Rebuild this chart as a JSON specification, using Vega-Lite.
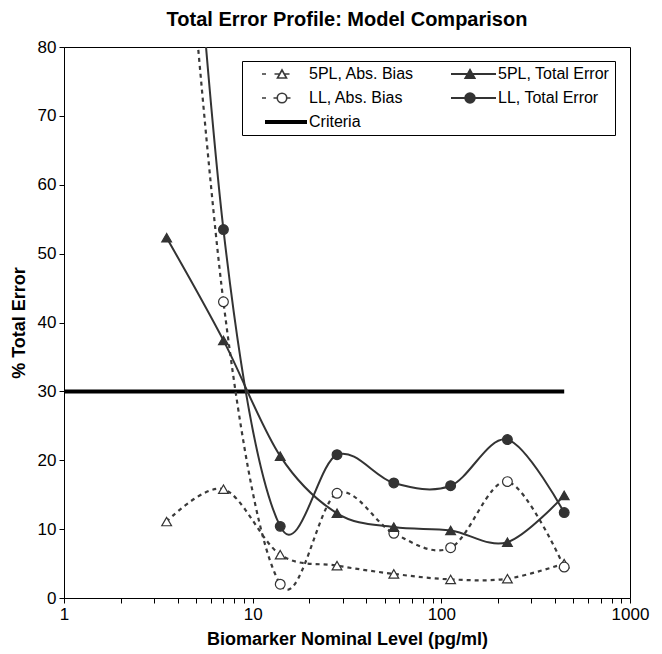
{
  "$schema": "https://vega.github.io/schema/vega-lite/v6.json",
  "width": 566,
  "height": 551,
  "autosize": "none",
  "padding": {"left": 64, "top": 47, "right": 32, "bottom": 56},
  "background": "white",
  "title": {"text": "Total Error Profile: Model Comparison", "fontSize": 20, "font": "Liberation Sans", "fontWeight": "bold", "color": "black", "offset": 8, "anchor": "middle"},
  "config": {
    "view": {"stroke": "black", "strokeWidth": 1},
    "font": "Liberation Sans",
    "axis": {"grid": false, "domainColor": "black", "tickColor": "black", "labelColor": "black", "titleColor": "black", "labelFontSize": 17, "titleFontSize": 18, "titleFontWeight": "bold", "labelFont": "Liberation Sans", "titleFont": "Liberation Sans", "tickSize": 5, "labelPadding": 3}
  },
  "data": {"values": [
    {"series": "5PL, Abs. Bias", "level": 3.5, "value": 11.1},
    {"series": "5PL, Abs. Bias", "level": 7, "value": 15.8},
    {"series": "5PL, Abs. Bias", "level": 14, "value": 6.3},
    {"series": "5PL, Abs. Bias", "level": 28, "value": 4.7},
    {"series": "5PL, Abs. Bias", "level": 56, "value": 3.5},
    {"series": "5PL, Abs. Bias", "level": 112, "value": 2.7},
    {"series": "5PL, Abs. Bias", "level": 224, "value": 2.8},
    {"series": "5PL, Abs. Bias", "level": 448, "value": 5.0},
    {"series": "LL, Abs. Bias", "level": 3.5, "value": 134},
    {"series": "LL, Abs. Bias", "level": 7, "value": 43},
    {"series": "LL, Abs. Bias", "level": 14, "value": 2.0},
    {"series": "LL, Abs. Bias", "level": 28, "value": 15.2},
    {"series": "LL, Abs. Bias", "level": 56, "value": 9.4},
    {"series": "LL, Abs. Bias", "level": 112, "value": 7.3},
    {"series": "LL, Abs. Bias", "level": 224, "value": 16.9},
    {"series": "LL, Abs. Bias", "level": 448, "value": 4.5},
    {"series": "5PL, Total Error", "level": 3.5, "value": 52.3},
    {"series": "5PL, Total Error", "level": 7, "value": 37.4},
    {"series": "5PL, Total Error", "level": 14, "value": 20.6},
    {"series": "5PL, Total Error", "level": 28, "value": 12.3},
    {"series": "5PL, Total Error", "level": 56, "value": 10.3},
    {"series": "5PL, Total Error", "level": 112, "value": 9.8},
    {"series": "5PL, Total Error", "level": 224, "value": 8.1},
    {"series": "5PL, Total Error", "level": 448, "value": 14.9},
    {"series": "LL, Total Error", "level": 3.5, "value": 153},
    {"series": "LL, Total Error", "level": 7, "value": 53.5},
    {"series": "LL, Total Error", "level": 14, "value": 10.4},
    {"series": "LL, Total Error", "level": 28, "value": 20.8},
    {"series": "LL, Total Error", "level": 56, "value": 16.7},
    {"series": "LL, Total Error", "level": 112, "value": 16.3},
    {"series": "LL, Total Error", "level": 224, "value": 23.0},
    {"series": "LL, Total Error", "level": 448, "value": 12.4},
    {"series": "Criteria", "level": 1, "value": 30},
    {"series": "Criteria", "level": 448, "value": 30}
  ]},
  "encoding": {
    "x": {"field": "level", "type": "quantitative", "scale": {"type": "log", "domain": [1, 1000], "nice": false},
      "axis": {"title": "Biomarker Nominal Level (pg/ml)", "values": [1,2,3,4,5,6,7,8,9,10,20,30,40,50,60,70,80,90,100,200,300,400,500,600,700,800,900,1000],
        "labelExpr": "(datum.value == 1 || datum.value == 10 || datum.value == 100 || datum.value == 1000) ? format(datum.value, 'd') : ''",
        "labelOverlap": false, "labelFlush": false, "titlePadding": 8}},
    "y": {"field": "value", "type": "quantitative", "scale": {"domain": [0, 80], "nice": false},
      "axis": {"title": "% Total Error", "values": [0,10,20,30,40,50,60,70,80], "titlePadding": 9}},
    "color": {"field": "series", "type": "nominal",
      "scale": {"domain": ["5PL, Abs. Bias", "LL, Abs. Bias", "Criteria", "5PL, Total Error", "LL, Total Error"], "range": ["#3a3a3a", "#3a3a3a", "#000000", "#333333", "#333333"]},
      "legend": {"title": null, "orient": "none", "legendX": 178, "legendY": 14, "columns": 2,
        "strokeColor": "black", "fillColor": "white", "padding": 5,
        "labelFontSize": 16, "labelFont": "Liberation Sans", "labelColor": "black",
        "symbolSize": 100, "labelOffset": 46, "columnPadding": 22, "rowPadding": 7,
        "encode": {"symbols": {"update": {
          "shape": {"signal": "datum.value === '5PL, Abs. Bias' ? 'M1.4,0L2.2,0M3.9,0L4.95,0M5.85,0L6.9,0M4.5,0.8L5.4,-0.8L6.3,0.8Z' : datum.value === 'LL, Abs. Bias' ? 'M1.4,0L2.2,0M3.7,0L4.45,0M6.35,0L7.1,0M4.45,0C4.45,-0.525,4.875,-0.95,5.4,-0.95C5.925,-0.95,6.35,-0.525,6.35,0C6.35,0.525,5.925,0.95,5.4,0.95C4.875,0.95,4.45,0.525,4.45,0Z' : datum.value === '5PL, Total Error' ? 'M1.4,0L10.4,0M4.3,0.8L5.2,-0.8L6.1,0.8Z' : datum.value === 'LL, Total Error' ? 'M1.4,0L10.4,0M4.25,0C4.25,-0.525,4.675,-0.95,5.2,-0.95C5.725,-0.95,6.15,-0.525,6.15,0C6.15,0.525,5.725,0.95,5.2,0.95C4.675,0.95,4.25,0.525,4.25,0Z' : 'M2,0L10.4,0'"},
          "fill": {"signal": "(datum.value === '5PL, Total Error' || datum.value === 'LL, Total Error') ? '#333333' : (datum.value === 'Criteria' ? 'transparent' : 'white')"},
          "strokeWidth": {"signal": "datum.value === 'Criteria' ? 4 : (datum.value === '5PL, Abs. Bias' || datum.value === 'LL, Abs. Bias') ? 1.6 : 2"},
          "strokeDash": {"value": []},
          "opacity": {"value": 1}
        }}}}}
  },
  "layer": [
    {"transform": [{"filter": "datum.series === 'Criteria'"}],
     "mark": {"type": "line", "strokeWidth": 4, "clip": true}},
    {"transform": [{"filter": "datum.series === '5PL, Abs. Bias' || datum.series === 'LL, Abs. Bias'"}],
     "mark": {"type": "line", "interpolate": "cardinal", "strokeWidth": 2.2, "strokeDash": [4, 4], "clip": true}},
    {"transform": [{"filter": "datum.series === '5PL, Total Error' || datum.series === 'LL, Total Error'"}],
     "mark": {"type": "line", "interpolate": "cardinal", "strokeWidth": 2, "clip": true}},
    {"transform": [{"filter": "datum.series !== 'Criteria'"}],
     "mark": {"type": "point", "size": 95, "strokeWidth": 1.2, "opacity": 1, "clip": true},
     "encoding": {
       "color": {"value": "#333333"},
       "shape": {"field": "series", "type": "nominal", "legend": null,
         "scale": {"domain": ["5PL, Abs. Bias", "5PL, Total Error", "LL, Abs. Bias", "LL, Total Error"], "range": ["triangle-up", "triangle-up", "circle", "circle"]}},
       "fill": {"field": "series", "type": "nominal", "legend": null,
         "scale": {"domain": ["5PL, Abs. Bias", "5PL, Total Error", "LL, Abs. Bias", "LL, Total Error"], "range": ["white", "#333333", "white", "#333333"]}}
     }}
  ]
}
